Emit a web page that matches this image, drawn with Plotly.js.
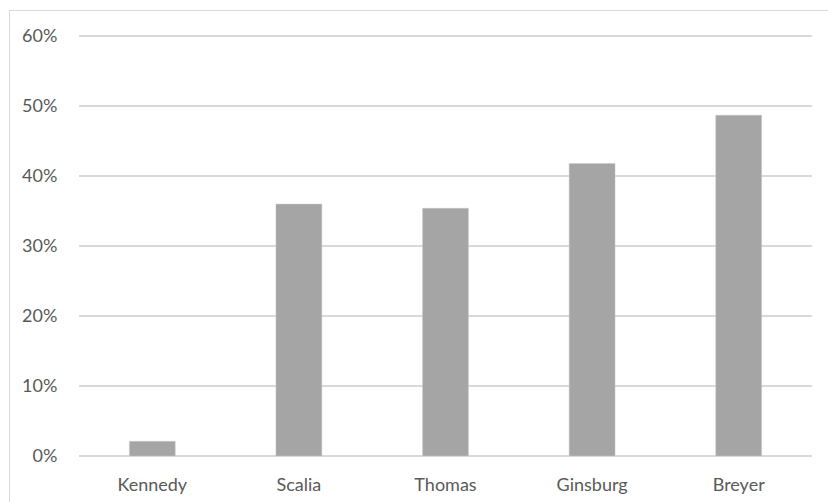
<!DOCTYPE html>
<html>
<head>
<meta charset="utf-8">
<script src="https://cdn.plot.ly/plotly-3.0.1.min.js"></script>
<style>
  html, body { margin: 0; padding: 0; background: #fff; }
  #wrap { position: relative; width: 828px; height: 502px; }
  #frame { position: absolute; left: 9px; top: 10px; width: 830px; height: 500px; border: 1px solid #d9d9d9; box-sizing: border-box; pointer-events: none; }
  #chart { position: absolute; left: 0; top: 0; width: 828px; height: 502px; }
</style>
</head>
<body>
<div id="wrap">
  <div id="chart"></div>
  <div id="frame"></div>
</div>
<script>
const justices = ["Kennedy", "Scalia", "Thomas", "Ginsburg", "Breyer"];
const shares = [0.021, 0.360, 0.354, 0.418, 0.487];
const yTicks = [0, 0.1, 0.2, 0.3, 0.4, 0.5, 0.6];

const trace = {
  type: "bar",
  x: justices,
  y: shares,
  marker: { color: "#a5a5a5", line: { color: "#c9c9c9", width: 0.5 } },
  hoverinfo: "skip"
};

const layout = {
  width: 828,
  height: 502,
  margin: { l: 79, r: 16, t: 34, b: 46 },
  paper_bgcolor: "#ffffff",
  plot_bgcolor: "#ffffff",
  showlegend: false,
  bargap: 0.687,
  font: { family: "Lato, 'Open Sans', sans-serif", size: 18, color: "#595959" },
  xaxis: {
    showgrid: false,
    showline: false,
    zeroline: false,
    ticks: "outside",
    ticklen: 12,
    tickcolor: "rgba(0,0,0,0)",
    tickfont: { size: 18, color: "#595959" }
  },
  yaxis: {
    range: [0, 0.603],
    tickvals: yTicks,
    tickformat: ".0%",
    showgrid: true,
    gridcolor: "#d9d9d9",
    gridwidth: 1.3,
    zeroline: true,
    zerolinecolor: "#d9d9d9",
    zerolinewidth: 1.3,
    showline: false,
    ticks: "outside",
    ticklen: 17,
    tickcolor: "rgba(0,0,0,0)",
    tickfont: { size: 18, color: "#595959" }
  }
};

Plotly.newPlot("chart", [trace], layout, { displayModeBar: false, staticPlot: true });
</script>
</body>
</html>
